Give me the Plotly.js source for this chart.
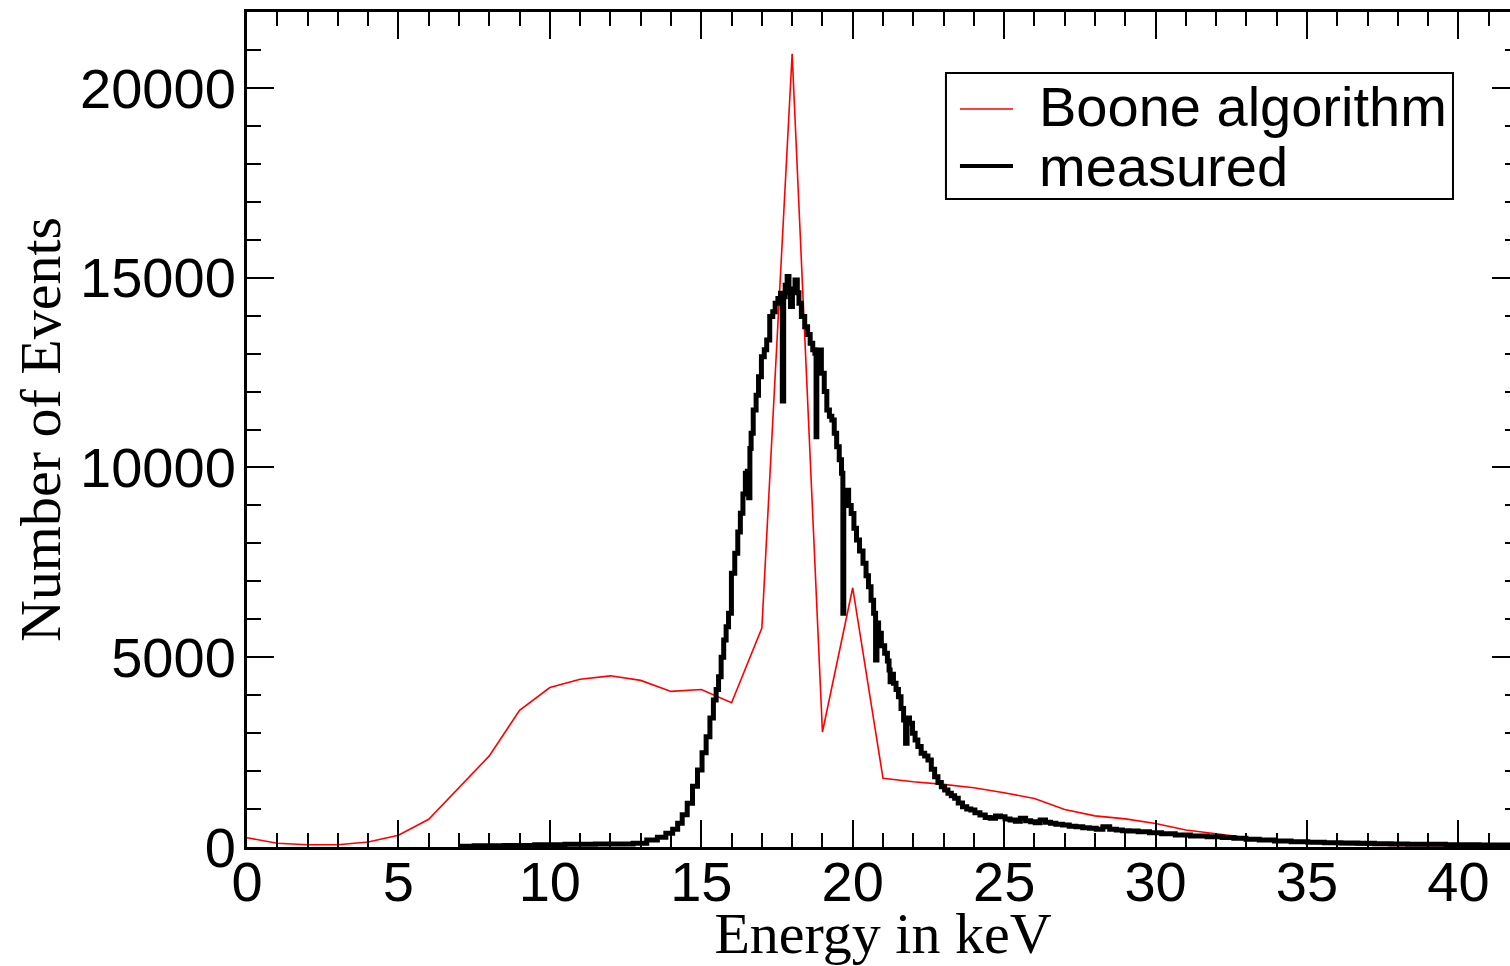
<!DOCTYPE html>
<html>
<head>
<meta charset="utf-8">
<script src="https://cdn.plot.ly/plotly-3.0.1.min.js"></script>
<style>
html, body { margin: 0; padding: 0; overflow: hidden; background: #fff; }
#chart { width: 1530px; height: 966px; }
</style>
</head>
<body>
<div id="chart"></div>
<script>
// Boone algorithm (red), sampled at 1 keV
const booneEnergy = [0,1,2,3,4,5,6,7,8,9,10,11,12,13,14,15,16,17,18,19,20,21,22,23,24,25,26,27,28,29,30,31,32,33,34,35,36,37,38,39,40,41,42];
const booneEvents = [245,100,60,60,130,310,730,1560,2400,3600,4200,4420,4510,4390,4100,4150,3800,5770,20900,3030,6830,1810,1720,1650,1560,1430,1280,990,820,740,620,450,360,250,150,100,70,50,40,35,30,25,20];

// Measured spectrum (black)
const measEnergy = [7,8,9,10,11,12,12.5,13,13.4,13.7,13.96,14.15,14.29,14.45,14.62,14.8,14.95,15.1,15.22,15.35,15.45,15.53,15.61,15.7,15.78,15.86,15.94,16.05,16.16,16.25,16.33,16.42,16.49,16.55,16.58,16.63,16.66,16.77,16.85,16.93,17.04,17.12,17.2,17.32,17.4,17.48,17.58,17.65,17.7,17.74,17.8,17.87,17.92,17.97,18.05,18.14,18.2,18.25,18.36,18.47,18.55,18.64,18.72,18.78,18.8,18.83,18.91,19.02,19.1,19.19,19.27,19.35,19.43,19.51,19.6,19.66,19.69,19.72,19.75,19.83,19.9,20.0,20.08,20.17,20.28,20.4,20.48,20.56,20.65,20.73,20.78,20.82,20.89,21.0,21.11,21.18,21.22,21.25,21.3,21.39,21.47,21.55,21.64,21.72,21.77,21.82,21.93,22.02,22.1,22.2,22.32,22.43,22.54,22.65,22.76,22.87,22.98,23.09,23.2,23.31,23.42,23.55,23.7,23.83,23.97,24.1,24.3,24.45,24.63,24.8,24.96,25.1,25.29,25.45,25.62,25.8,25.95,26.1,26.28,26.45,26.61,26.8,27.05,27.25,27.49,27.7,27.93,28.15,28.37,28.6,28.81,29.0,29.25,29.6,30.0,30.4,30.9,31.4,32.0,32.4,32.77,33.2,33.65,34.2,34.75,35.3,35.85,36.4,36.95,37.5,38.05,38.6,39.15,40.0,41.35,42];
const measEvents = [20,30,40,60,70,80,80,100,184,260,360,470,624,850,1150,1600,2030,2480,2907,3400,3874,4150,4487,5000,5455,5800,6157,7212,7740,8300,8793,9300,9847,9900,9200,10500,10900,11515,11900,12393,12920,13100,13360,13974,14100,14327,14450,14590,11750,14500,14800,15028,14600,14238,14700,14940,14600,14327,13974,13710,13500,13272,13100,13009,10810,12950,13096,12480,12000,11515,11350,11251,10900,10548,10200,9847,6157,9300,9200,9400,9000,8790,8400,8090,7800,7475,7150,6860,6500,6157,4927,5900,5630,5300,5104,4900,4664,4356,4550,4313,4150,3960,3650,3346,2733,3400,3260,3000,2820,2650,2470,2400,2292,2050,1853,1700,1590,1500,1415,1350,1283,1160,1062,1000,975,900,843,780,756,820,798,740,711,680,756,690,667,640,711,650,624,600,580,550,535,510,493,470,535,470,448,430,420,400,377,350,316,290,272,250,229,205,184,160,140,125,113,105,97,88,79,75,71,62,53,50];

const seriesNames = ["Boone algorithm", "measured"];
const xTitle = "Energy in keV";
const yTitle = "Number of Events";

const sans = "Liberation Sans, Arial, Helvetica, sans-serif";
const serif = "Liberation Serif, Times New Roman, serif";

const traces = [
  { x: booneEnergy, y: booneEvents, name: seriesNames[0], type: "scatter", mode: "lines",
    line: { color: "#ff0000", width: 1.6 } },
  { x: measEnergy, y: measEvents, name: seriesNames[1], type: "scatter", mode: "lines",
    line: { color: "#000000", width: 5, shape: "hvh" } }
];

const axisCommon = {
  showgrid: false, zeroline: false, showline: true, linecolor: "#000", linewidth: 3,
  mirror: "allticks", ticks: "inside", tickcolor: "#000", tickwidth: 2, ticklen: 27,
  tickfont: { family: sans, size: 56, color: "#000" }
};

const layout = {
  width: 1530, height: 966,
  margin: { l: 247, r: 11, t: 12, b: 119 },
  paper_bgcolor: "#fff", plot_bgcolor: "#fff",
  showlegend: false,
  xaxis: Object.assign({}, axisCommon, {
    range: [0, 42], dtick: 5, tick0: 0, tickformat: "d",
    minor: { dtick: 1, ticks: "inside", ticklen: 14, tickwidth: 2, tickcolor: "#000" },
    ticklabelstandoff: -16,
    title: { text: xTitle, font: { family: serif, size: 58, color: "#000" }, standoff: 24 }
  }),
  yaxis: Object.assign({}, axisCommon, {
    range: [0, 22000], dtick: 5000, tick0: 0, tickformat: "d",
    minor: { dtick: 1000, ticks: "inside", ticklen: 14, tickwidth: 2, tickcolor: "#000" },
    ticklabelstandoff: -3,
    title: { text: yTitle, font: { family: serif, size: 58, color: "#000" }, standoff: 1 }
  }),
  shapes: [
    { type: "rect", xref: "paper", yref: "paper", x0: 0.5495, x1: 0.9481, y0: 0.776, y1: 0.927,
      line: { color: "#000", width: 2 }, fillcolor: "rgba(255,255,255,0)" },
    { type: "line", xref: "paper", yref: "paper", x0: 0.5605, x1: 0.6022, y0: 0.8838, y1: 0.8838,
      line: { color: "#ff0000", width: 1.6 } },
    { type: "line", xref: "paper", yref: "paper", x0: 0.5605, x1: 0.6022, y0: 0.8156, y1: 0.8156,
      line: { color: "#000", width: 4 } }
  ],
  annotations: [
    { xref: "paper", yref: "paper", x: 0.6210, y: 0.887, xanchor: "left", yanchor: "middle",
      text: seriesNames[0], showarrow: false, font: { family: sans, size: 56, color: "#000" } },
    { xref: "paper", yref: "paper", x: 0.6210, y: 0.815, xanchor: "left", yanchor: "middle",
      text: seriesNames[1], showarrow: false, font: { family: sans, size: 56, color: "#000" } }
  ]
};

Plotly.newPlot("chart", traces, layout, { displayModeBar: false, staticPlot: true });
</script>
</body>
</html>
